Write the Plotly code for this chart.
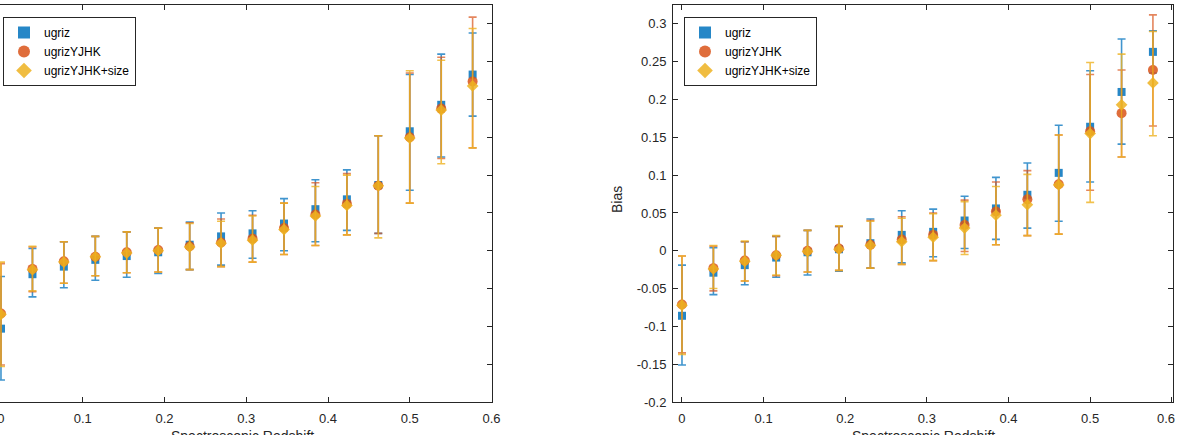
import numpy as np
import plotly.graph_objects as go

# ---------------- data ----------------
redshift = [0, 0.0385, 0.0769, 0.1154, 0.1538, 0.1923, 0.2308, 0.2692,
            0.3077, 0.3462, 0.3846, 0.4231, 0.4615, 0.5, 0.5385, 0.5769]
series_names = ["ugriz", "ugrizYJHK", "ugrizYJHK+size"]

# left panel
L_ugriz = [-0.103, -0.031, -0.021, -0.012, -0.007, -0.002, 0.008, 0.019, 0.023, 0.036, 0.055, 0.068, 0.087, 0.158, 0.193, 0.233]
L_ugriz_hi = [-0.034, 0.003, 0.012, 0.019, 0.025, 0.030, 0.038, 0.050, 0.053, 0.069, 0.094, 0.107, 0.152, 0.233, 0.260, 0.288]
L_ugriz_lo = [-0.171, -0.061, -0.049, -0.039, -0.035, -0.030, -0.025, -0.019, -0.010, 0.000, 0.012, 0.027, 0.023, 0.080, 0.124, 0.178]
L_yjhk = [-0.083, -0.024, -0.014, -0.008, -0.002, 0.001, 0.006, 0.011, 0.016, 0.030, 0.048, 0.062, 0.086, 0.150, 0.188, 0.224]
L_yjhk_hi = [-0.017, 0.005, 0.012, 0.019, 0.025, 0.030, 0.037, 0.042, 0.047, 0.063, 0.090, 0.102, 0.152, 0.235, 0.256, 0.309]
L_yjhk_lo = [-0.151, -0.054, -0.043, -0.033, -0.029, -0.028, -0.025, -0.021, -0.015, -0.005, 0.007, 0.021, 0.023, 0.063, 0.122, 0.136]
L_size = [-0.084, -0.025, -0.015, -0.008, -0.003, 0.000, 0.005, 0.010, 0.014, 0.028, 0.046, 0.060, 0.086, 0.149, 0.186, 0.218]
L_size_hi = [-0.015, 0.006, 0.012, 0.019, 0.025, 0.030, 0.036, 0.039, 0.046, 0.063, 0.085, 0.100, 0.152, 0.238, 0.252, 0.294]
L_size_lo = [-0.153, -0.053, -0.043, -0.033, -0.029, -0.028, -0.025, -0.021, -0.015, -0.005, 0.007, 0.021, 0.017, 0.063, 0.115, 0.136]

# right panel (Bias)
R_ugriz = [-0.086, -0.029, -0.019, -0.009, -0.002, 0.002, 0.010, 0.021, 0.025, 0.040, 0.056, 0.074, 0.103, 0.164, 0.210, 0.263]
R_ugriz_hi = [-0.019, 0.004, 0.012, 0.019, 0.027, 0.032, 0.042, 0.053, 0.055, 0.072, 0.097, 0.116, 0.166, 0.238, 0.280, 0.291]
R_ugriz_lo = [-0.151, -0.058, -0.045, -0.035, -0.032, -0.027, -0.023, -0.016, -0.008, 0.003, 0.015, 0.030, 0.039, 0.091, 0.141, 0.235]
R_yjhk = [-0.071, -0.023, -0.013, -0.006, 0.000, 0.003, 0.008, 0.015, 0.021, 0.034, 0.052, 0.068, 0.088, 0.158, 0.182, 0.239]
R_yjhk_hi = [-0.007, 0.006, 0.012, 0.019, 0.027, 0.032, 0.040, 0.045, 0.050, 0.067, 0.091, 0.106, 0.153, 0.233, 0.239, 0.312]
R_yjhk_lo = [-0.135, -0.053, -0.040, -0.033, -0.028, -0.026, -0.023, -0.018, -0.013, -0.001, 0.008, 0.020, 0.022, 0.080, 0.124, 0.165]
R_size = [-0.072, -0.024, -0.014, -0.006, -0.001, 0.002, 0.007, 0.012, 0.018, 0.030, 0.047, 0.061, 0.087, 0.155, 0.193, 0.222]
R_size_hi = [-0.007, 0.007, 0.013, 0.020, 0.027, 0.033, 0.039, 0.043, 0.049, 0.065, 0.085, 0.101, 0.153, 0.249, 0.260, 0.290]
R_size_lo = [-0.137, -0.050, -0.040, -0.032, -0.028, -0.026, -0.023, -0.018, -0.013, -0.005, 0.008, 0.020, 0.022, 0.064, 0.124, 0.152]

x_tick_vals = [0, 0.1, 0.2, 0.3, 0.4, 0.5, 0.6]
x_tick_text = ["0", "0.1", "0.2", "0.3", "0.4", "0.5", "0.6"]
y_tick_vals = [-0.2, -0.15, -0.1, -0.05, 0, 0.05, 0.1, 0.15, 0.2, 0.25, 0.3]
y_tick_text = ["-0.2", "-0.15", "-0.1", "-0.05", "0", "0.05", "0.1", "0.15", "0.2", "0.25", "0.3"]

# ---------------- style ----------------
colors = ["#0072BD", "#D95319", "#EDB120"]
bar_colors = ["rgba(0,114,189,0.75)", "rgba(217,83,25,0.7)", "rgba(237,177,32,0.8)"]
symbols = ["square", "circle", "diamond"]
sizes = [8, 10, 9]
FONT = "Liberation Sans, Arial, Helvetica, sans-serif"
AX = "#262626"

W, H = 1181, 435
ML, MR, MT, MB = 0, 8, 5, 33
PW = W - ML - MR
PH = H - MT - MB

fig = go.Figure()

panels = [
    ("x", "y", "legend", [(L_ugriz, L_ugriz_hi, L_ugriz_lo), (L_yjhk, L_yjhk_hi, L_yjhk_lo), (L_size, L_size_hi, L_size_lo)]),
    ("x2", "y2", "legend2", [(R_ugriz, R_ugriz_hi, R_ugriz_lo), (R_yjhk, R_yjhk_hi, R_yjhk_lo), (R_size, R_size_hi, R_size_lo)]),
]

for xa, ya, lg, series in panels:
    for k, (m, hi, lo) in enumerate(series):
        m = np.array(m); hi = np.array(hi); lo = np.array(lo)
        fig.add_trace(go.Scatter(
            x=redshift, y=m, mode="markers", name=series_names[k],
            xaxis=xa, yaxis=ya, legend=lg,
            marker=dict(symbol=symbols[k], size=sizes[k], color=colors[k], opacity=0.85,
                        line=dict(width=0)),
            error_y=dict(type="data", symmetric=False, array=hi - m, arrayminus=m - lo,
                         color=bar_colors[k], thickness=1.6, width=4),
        ))

dom_left = [0, 492 / PW]
dom_right = [(673 - ML) / PW, 1.0]

common_x = dict(tickvals=x_tick_vals, ticks="inside", ticklen=5,
                tickcolor=AX, showline=True, linecolor=AX, linewidth=1, mirror="ticks",
                showgrid=False, zeroline=False, tickfont=dict(family=FONT, size=13, color=AX),
                ticklabelstandoff=4, ticklabeloverflow="allow")
common_y = dict(range=[-0.2, 0.325], tickvals=y_tick_vals, ticktext=y_tick_text,
                ticks="inside", ticklen=5, tickcolor=AX, showline=True, linecolor=AX,
                linewidth=1, showgrid=False, zeroline=False,
                tickfont=dict(family=FONT, size=13, color=AX))

# last right-panel x label sits on the page edge; it is drawn as an annotation below
right_x_text = x_tick_text[:-1] + [""]

fig.update_layout(
    width=W, height=H,
    margin=dict(l=ML, r=MR, t=MT, b=MB, autoexpand=False),
    paper_bgcolor="white", plot_bgcolor="white",
    font=dict(family=FONT, size=13, color=AX),
    xaxis=dict(domain=dom_left, range=[-0.0012, 0.6006], anchor="y",
               ticktext=x_tick_text, **common_x),
    yaxis=dict(domain=[0, 1], anchor="x", side="right", showticklabels=False, mirror=False,
               **common_y),
    xaxis2=dict(domain=dom_right, range=[-0.011, 0.6015], anchor="y2",
                ticktext=right_x_text, **common_x),
    yaxis2=dict(domain=[0, 1], anchor="x2", mirror="ticks", ticklabelstandoff=3, **common_y),
    legend=dict(x=3 / PW, y=1 - (17 - MT) / PH, xanchor="left", yanchor="top",
                bgcolor="white", bordercolor=AX, borderwidth=1,
                font=dict(family=FONT, size=12, color="black"), tracegroupgap=0,
                itemsizing="constant"),
    legend2=dict(x=(684 - ML) / PW, y=1 - (17 - MT) / PH, xanchor="left", yanchor="top",
                 bgcolor="white", bordercolor=AX, borderwidth=1,
                 font=dict(family=FONT, size=12, color="black"), tracegroupgap=0,
                 itemsizing="constant"),
    showlegend=True,
)

fig.add_annotation(text=x_tick_text[-1], xref="paper", yref="paper",
                   x=(1166 - ML) / PW, y=-(418 - (H - MB)) / PH,
                   xanchor="center", yanchor="middle", borderpad=0,
                   showarrow=False, font=dict(family=FONT, size=13, color=AX))

# axis titles (partially cut off at the bottom edge, as in the original)
title_y = -(426 - (H - MB)) / PH
fig.add_annotation(text="Spectroscopic Redshift", xref="paper", yref="paper",
                   x=(dom_left[0] + dom_left[1]) / 2 - 4 / PW, y=title_y,
                   xanchor="center", yanchor="top", showarrow=False,
                   font=dict(family=FONT, size=14, color=AX))
fig.add_annotation(text="Spectroscopic Redshift", xref="paper", yref="paper",
                   x=(dom_right[0] + dom_right[1]) / 2, y=title_y,
                   xanchor="center", yanchor="top", showarrow=False,
                   font=dict(family=FONT, size=14, color=AX))
fig.add_annotation(text="Bias", xref="paper", yref="paper",
                   x=(617 - ML) / PW, y=1 - (200 - MT) / PH,
                   xanchor="center", yanchor="middle", textangle=-90, showarrow=False,
                   font=dict(family=FONT, size=14, color=AX))

fig.write_html("out.html")
